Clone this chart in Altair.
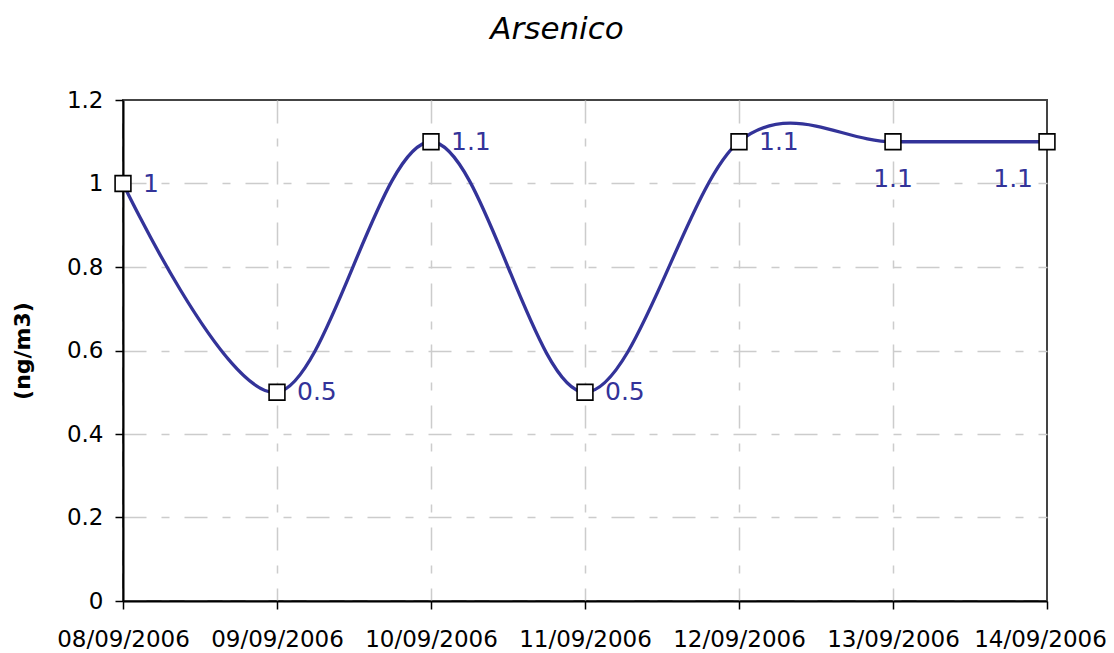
import altair as alt
import pandas as pd

dates = ["08/09/2006", "09/09/2006", "10/09/2006", "11/09/2006",
         "12/09/2006", "13/09/2006", "14/09/2006"]
values = [1.0, 0.5, 1.1, 0.5, 1.1, 1.1, 1.1]
labels = ["1", "0.5", "1.1", "0.5", "1.1", "1.1", "1.1"]

df = pd.DataFrame({"date": dates, "value": values, "label": labels,
                   "idx": list(range(len(dates)))})

FONT = "DejaVu Sans"
BLUE = "#333399"

x = alt.X("date:N", sort=dates,
          scale=alt.Scale(type="point", padding=0),
          axis=alt.Axis(title=None, labelAngle=0, labelPadding=19,
                        labelOffset={"condition": {"test": "datum.value == '14/09/2006'",
                                                   "value": -7},
                                     "value": 0},
                        gridOpacity={"condition": {"test": "datum.value == '14/09/2006'",
                                                   "value": 0},
                                     "value": 1}))
y = alt.Y("value:Q", scale=alt.Scale(domain=[0, 1.2], nice=False),
          axis=alt.Axis(title="(ng/m3)", values=[0, 0.2, 0.4, 0.6, 0.8, 1.0, 1.2],
                        format="~g", labelPadding=12,
                        gridOpacity={"condition": {"test": "datum.value >= 1.19",
                                                   "value": 0},
                                     "value": 1},
                        titleFontWeight="bold", titleFontSize=22,
                        titleAngle=270, titleAlign="center", titleBaseline="middle",
                        titleX=-101, titleY=250.5))

base = alt.Chart(df)

line = base.mark_line(interpolate="cardinal", color=BLUE, strokeWidth=3.3).encode(x=x, y=y)
pts = base.mark_point(shape="square", filled=True, fill="white", stroke="black",
                      strokeWidth=1.6, size=250, opacity=1).encode(x=x, y=y)

txt_right = base.transform_filter("datum.idx < 5").mark_text(
    align="left", baseline="middle", dx=20, color=BLUE, font=FONT, fontSize=25
).encode(x=x, y=y, text="label:N")
txt_center = base.transform_filter("datum.idx == 5").mark_text(
    align="center", baseline="middle", dx=0, dy=37, color=BLUE, font=FONT, fontSize=25
).encode(x=x, y=y, text="label:N")
txt_left = base.transform_filter("datum.idx == 6").mark_text(
    align="right", baseline="middle", dx=-14, dy=37, color=BLUE, font=FONT, fontSize=25
).encode(x=x, y=y, text="label:N")

chart = alt.layer(line, pts, txt_right, txt_center, txt_left).properties(
    width=924, height=501,
    title=alt.Title("Arsenico", font=FONT, fontSize=31, fontStyle="italic",
                    fontWeight="normal", color="black", anchor="middle",
                    dx=-28, offset=43),
    padding={"left": 115, "top": 92, "right": 59, "bottom": 52},
    autosize=alt.AutoSizeParams(type="none"),
).configure_view(
    stroke="#444444", strokeWidth=2
).configure_axis(
    labelFont=FONT, labelFontSize=23, labelColor="black",
    titleFont=FONT, titleColor="black",
    domainColor="black", domainWidth=2,
    tickColor="black", tickSize=8, tickWidth=1.5,
    grid=True, gridColor="#cccccc", gridWidth=1.5, gridDash=[23, 15, 8, 15],
)

chart.save("out.html", embed_options={"renderer": "svg", "actions": False})
